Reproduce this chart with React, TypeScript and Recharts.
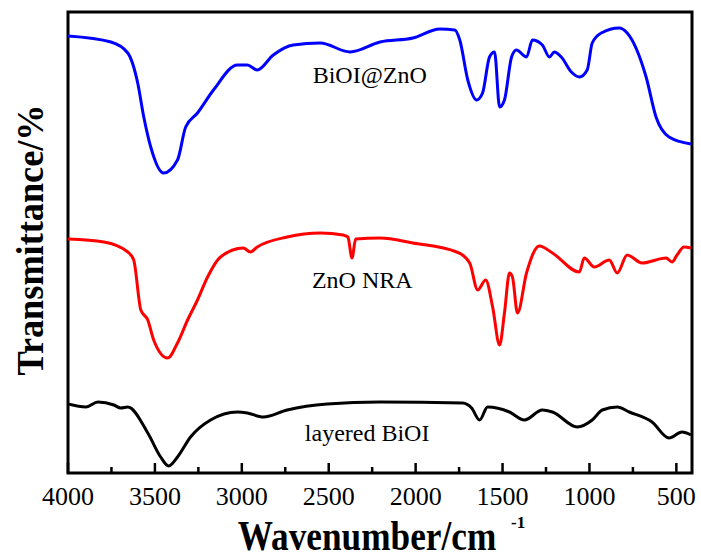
import { LineChart, Line, XAxis, YAxis, ReferenceArea, ReferenceDot } from "recharts";

// FTIR spectra, wavenumber (cm-1) vs transmittance (a.u., curves offset)
const bioiZnoWave = [
  4000, 3753, 3656, 3599, 3564, 3524, 3450, 3370, 3323, 3255, 3163, 3025, 2968, 2911, 2819, 2704,
  2549, 2377, 2205, 2016, 1861, 1775, 1746, 1700, 1649, 1615, 1575, 1546, 1517, 1489, 1448, 1420,
  1362, 1328, 1271, 1230, 1202, 1162, 1104, 1058, 1013, 984, 932, 829, 783, 674, 617, 542, 416,
];
const bioiZnoT = [
  437, 431, 420, 390, 356, 326, 300, 313, 346, 360, 383, 408, 408, 403, 418, 428,
  430, 421, 431, 435, 444, 443, 433, 393, 373, 380, 416, 421, 366, 373, 416, 423,
  416, 433, 428, 416, 421, 416, 401, 396, 403, 430, 440, 445, 440, 396, 356, 336, 329,
];

const znoWave = [
  4000, 3794, 3656, 3622, 3581, 3541, 3507, 3427, 3370, 3312, 3255, 3197, 3123, 2991, 2951, 2911,
  2739, 2549, 2417, 2390, 2366, 2345, 2205, 2016, 1764, 1689, 1643, 1597, 1557, 1517, 1489, 1460,
  1443, 1414, 1362, 1288, 1213, 1058, 1030, 972, 886, 840, 783, 697, 559, 525, 496, 456, 416,
];
const znoT = [
  234, 231, 221, 213, 163, 153, 133, 115, 130, 153, 173, 196, 216, 225, 221, 226,
  236, 240, 238, 236, 215, 234, 235, 230, 221, 210, 183, 193, 166, 128, 160, 200,
  196, 160, 200, 227, 220, 201, 215, 206, 213, 200, 218, 210, 215, 211, 218, 226, 225,
];

const bioiWave = [
  4000, 3897, 3828, 3736, 3696, 3656, 3541, 3467, 3421, 3370, 3295, 3180, 3025, 2968, 2876, 2739,
  2509, 2205, 1729, 1678, 1632, 1586, 1460, 1374, 1271, 1213, 1070, 984, 926, 840, 771, 640, 542,
  467, 416,
];
const bioiT = [
  69, 66, 71, 68, 65, 66, 40, 16, 7, 16, 36, 53, 61, 60, 56, 63,
  69, 71, 70, 65, 53, 66, 61, 53, 63, 61, 46, 53, 63, 66, 61, 51, 35,
  41, 38,
];

const xTicks = [4000, 3750, 3500, 3250, 3000, 2750, 2500, 2250, 2000, 1750, 1500, 1250, 1000, 750, 500];

const seriesLabels = [
  { name: "BiOI@ZnO", w: 2264, t: 398 },
  { name: "ZnO NRA", w: 2307, t: 193 },
  { name: "layered BiOI", w: 2279, t: 40 },
];

const toRows = (w: number[], t: number[]) => w.map((x, i) => ({ w: x, t: t[i] }));

const serif = '"Liberation Serif", "Times New Roman", serif';

const XTick = (props: any) => {
  const { x, y, payload } = props;
  const major = payload.value % 500 === 0;
  return (
    <g>
      <line x1={x} y1={y} x2={x} y2={y - (major ? 10 : 6)} stroke="#000" strokeWidth={2.5} />
      {major && (
        <text x={x} y={y + 32} textAnchor="middle" fontSize={26} fontFamily={serif} fill="#000">
          {payload.value}
        </text>
      )}
    </g>
  );
};

export default function App() {
  return (
    <div style={{ position: "absolute", left: 0, top: 0 }}>
      <LineChart width={701} height={558} margin={{ top: 12, right: 9, bottom: 0, left: 0 }}>
        <XAxis
          dataKey="w"
          type="number"
          domain={[410, 4000]}
          reversed
          ticks={xTicks}
          interval={0}
          allowDataOverflow
          axisLine={false}
          tickLine={false}
          tickSize={0}
          tickMargin={0}
          tick={XTick}
          height={85}
          label={{
            content: () => (
              <g fontFamily={serif} fontWeight="bold" fill="#000">
                <text transform="translate(367,550) scale(0.84,1)" textAnchor="middle" fontSize={42}>
                  Wavenumber/cm
                </text>
                <text x={511} y={528} fontSize={17}>
                  -1
                </text>
              </g>
            ),
          }}
        />
        <YAxis
          type="number"
          domain={[0, 461]}
          allowDataOverflow
          width={68}
          tick={false}
          axisLine={false}
          tickLine={false}
          label={{
            content: () => (
              <text
                transform="translate(43,240) rotate(-90) scale(0.93,1)"
                textAnchor="middle"
                fontSize={39}
                fontWeight="bold"
                fontFamily={serif}
                fill="#000"
              >
                Transmittance/%
              </text>
            ),
          }}
        />
        <Line data={toRows(bioiZnoWave, bioiZnoT)} dataKey="t" type="monotone" stroke="#0000ff" strokeWidth={3} dot={false} isAnimationActive={false} />
        <Line data={toRows(znoWave, znoT)} dataKey="t" type="monotone" stroke="#ff0000" strokeWidth={3} dot={false} isAnimationActive={false} />
        <Line data={toRows(bioiWave, bioiT)} dataKey="t" type="monotone" stroke="#000000" strokeWidth={3} dot={false} isAnimationActive={false} />
        <ReferenceArea x1={4000} x2={410} y1={0} y2={461} fill="none" stroke="#000" strokeWidth={3} ifOverflow="visible" />
        {seriesLabels.map((s) => (
          <ReferenceDot
            key={s.name}
            x={s.w}
            y={s.t}
            r={0}
            fill="none"
            stroke="none"
            label={{
              content: (p: any) => (
                <text
                  x={p.viewBox.x}
                  y={p.viewBox.y}
                  textAnchor="middle"
                  dominantBaseline="central"
                  fontSize={24}
                  fontFamily={serif}
                  fill="#000"
                >
                  {s.name}
                </text>
              ),
            }}
          />
        ))}
      </LineChart>
    </div>
  );
}
